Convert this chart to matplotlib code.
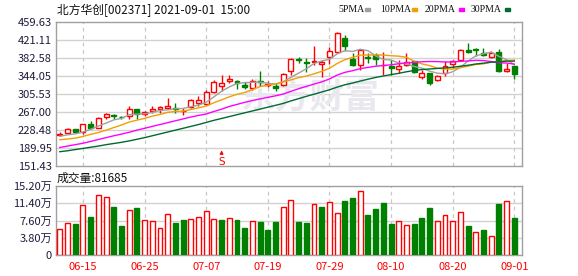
import numpy as np
import matplotlib
matplotlib.use("Agg")
import matplotlib.pyplot as plt
from matplotlib.patches import Rectangle

plt.rcParams['font.family'] = ['Noto Sans CJK SC', 'DejaVu Sans']

# ---- data ----
dates = ['06-15', '06-25', '07-07', '07-19', '07-29', '08-10', '08-20', '09-01']
date_idx = [3, 11, 19, 27, 35, 43, 51, 59]

opens = [218, 222.5, 230, 223, 240.6, 233.5, 256.9, 259.5, 256.5, 258.3,
         272.4, 261.8, 268.2, 272.4, 276, 275, 268.9, 278, 286, 283,
         310, 322, 332.5, 334, 324, 318, 334, 325.4, 322, 325,
         354, 379.5, 372.5, 373, 369.5, 384, 394.7, 424.4, 380.5, 367.8,
         384, 387.6, 366.5, 366, 358.6, 367.8, 374.9, 341.7, 350.1, 334.6,
         350.1, 368.8, 377, 399.6, 401, 392.5, 384, 394.7, 353.7, 365.7]
highs = [223, 232, 231.5, 242, 247.7, 255.5, 265.4, 261.8, 258.3, 279.5,
         273, 268.9, 279.5, 279.5, 297.2, 285, 274.5, 294, 300.7, 314,
         335, 345, 346.6, 336, 331, 337, 353.7, 332.5, 329, 350,
         383, 384, 383, 408, 378.4, 406, 437, 431.4, 392.6, 401,
         392.6, 392.6, 394, 377, 378.4, 392.6, 376, 357.2, 351, 346,
         374.9, 378.4, 401, 415.2, 403.2, 403.2, 396, 401, 371.4, 366]
lows = [216, 221, 222, 219.4, 230, 232, 252.6, 252.6, 251.2, 252.6,
        251.2, 258.3, 264, 265, 272.4, 264, 259.7, 276, 279.5, 281,
        307, 311, 329, 315, 316, 313.4, 322, 321, 311.3, 322,
        345, 371, 352, 367.8, 342, 370, 392.5, 396, 364.3, 357.2,
        371.4, 367.8, 345, 345, 350, 364.3, 351, 337.4, 325.4, 332.5,
        344.5, 360.8, 375.6, 392.5, 385.5, 386.9, 382, 352.3, 352.3, 337.4]
closes = [220.8, 231.4, 223, 240.6, 233.5, 254.8, 263.2, 258, 255.5, 272.4,
          261.8, 266.8, 272.4, 276.6, 279.5, 273.8, 268.9, 292, 293, 310.5,
          331, 329.5, 337.4, 329, 321, 334, 331.5, 325.4, 318.5, 348.5,
          379.5, 377.5, 371, 376, 374.5, 397.5, 435, 406.7, 366.4, 398.2,
          382, 379.8, 368, 361, 365.7, 372.8, 352.3, 350.1, 329, 344.6,
          364.3, 374.9, 399.6, 394, 400, 387.6, 392.5, 353.7, 358.7, 348.7]

ma5 = [215, 218, 220, 224, 229.9, 236.7, 243.0, 250.0, 253.0, 260.8,
       262.2, 262.9, 265.8, 270.0, 271.4, 273.8, 274.2, 278.2, 281.4, 287.6,
       299.1, 311.2, 320.3, 327.5, 329.6, 330.2, 330.6, 328.2, 326.1, 331.6,
       340.7, 349.9, 359.0, 370.5, 375.7, 379.3, 390.8, 397.9, 396.0, 400.8,
       397.7, 386.6, 378.9, 377.8, 371.3, 369.5, 364.0, 360.4, 354.0, 349.8,
       348.1, 352.6, 362.5, 375.5, 386.6, 391.2, 394.7, 385.6, 378.5, 368.2]
ma10 = [207.5, 209, 211, 214.5, 219, 223, 228, 233.5, 239, 245.3,
        249.4, 253.0, 257.9, 261.5, 266.1, 268.0, 268.6, 272.0, 275.7, 279.5,
        286.5, 292.7, 299.2, 304.5, 308.6, 314.6, 320.9, 324.2, 326.8, 330.6,
        335.4, 340.2, 343.6, 348.3, 353.6, 360.0, 370.3, 378.5, 383.3, 388.2,
        388.5, 388.7, 388.4, 386.9, 386.0, 383.6, 375.3, 369.6, 365.9, 360.5,
        358.8, 358.3, 361.4, 364.7, 368.2, 369.6, 373.7, 374.0, 377.0, 377.4]
ma20 = [191, 194, 197, 200, 204, 208, 212, 216, 219.5, 223.5,
        228, 232, 236, 240, 244, 248, 252, 256, 259.5, 262.4,
        267.9, 272.8, 278.6, 283.0, 287.4, 291.3, 294.7, 298.1, 301.3, 305.1,
        310.9, 316.5, 321.4, 326.4, 331.1, 337.3, 345.6, 351.4, 355.0, 359.4,
        362.0, 364.5, 366.0, 367.6, 369.8, 371.8, 372.8, 374.1, 374.6, 374.4,
        373.6, 373.5, 374.9, 375.8, 377.1, 376.6, 374.5, 371.8, 371.4, 369.0]
ma30 = [182, 184, 186.5, 189, 191.5, 194, 197, 199.5, 202, 205,
        208.5, 212, 216, 220, 224, 228, 232, 236, 240, 244.5,
        249, 253, 257, 261, 265, 269, 273, 277, 281, 285.1,
        290.4, 295.3, 300.2, 304.8, 309.5, 314.2, 319.9, 324.9, 328.6, 332.8,
        336.8, 340.6, 343.7, 346.6, 349.4, 352.7, 355.5, 357.4, 358.6, 359.8,
        360.9, 362.4, 364.5, 366.6, 369.3, 371.1, 373.1, 374.0, 375.4, 375.4]

# volume in units of 10k (万)
volume = [5.73, 6.97, 6.83, 10.94, 8.37, 13.14, 12.70, 10.57, 6.39, 9.84,
          10.35, 7.71, 7.49, 5.87, 8.95, 7.05, 7.71, 7.85, 8.29, 9.69,
          7.85, 7.71, 8.07, 7.71, 5.95, 7.49, 7.27, 5.51, 7.27, 10.50,
          12.04, 7.27, 7.05, 11.16, 10.57, 11.60, 9.18, 11.89, 12.55, 14.02,
          8.81, 10.13, 11.45, 6.83, 7.41, 6.53, 6.83, 8.15, 10.35, 7.41,
          8.73, 7.41, 9.40, 6.39, 4.99, 5.51, 4.11, 11.23, 11.82, 8.17]

price_ticks = [151.43, 189.95, 228.48, 267.00, 305.53, 344.05, 382.58, 421.11, 459.63]
vol_ticks = [0, 3.8, 7.6, 11.4, 15.2]
vol_labels = ['0', '3.80万', '7.60万', '11.40万', '15.20万']

RED = '#ff0000'
GREEN = '#008000'
GRID = '#d2d2d2'
BORDER = '#a0a0a0'
LABEL = '#1c1c3c'

W, H = 578, 276
fig = plt.figure(figsize=(W / 100, H / 100), dpi=100)


def box(l, t, r, b):
    return [l / W, 1 - b / H, (r - l) / W, (b - t) / H]


ax = fig.add_axes(box(56, 21.7, 522, 166))
axv = fig.add_axes(box(56, 186, 522, 255))

n = len(closes)
x = np.arange(n)
bw = 0.64

for a in (ax, axv):
    a.set_xlim(-0.5, 60.0)
    for s in a.spines.values():
        s.set_color(BORDER)
        s.set_linewidth(1)
    a.tick_params(length=0, labelsize=8, colors=LABEL, pad=3)
    a.set_xticks(date_idx)
    for xi in date_idx:
        a.axvline(xi, color='#c8c8c8', lw=0.9, ls=(0, (3, 3)), zorder=0)

# price panel
ax.set_ylim(price_ticks[0], price_ticks[-1])
ax.set_yticks(price_ticks)
ax.set_yticklabels(['%.2f' % v for v in price_ticks])
for v in price_ticks[1:-1]:
    ax.axhline(v, color=GRID, lw=1, zorder=0)
ax.set_xticklabels([])

ax.text(0.545, 0.48, '东方财富', transform=ax.transAxes, ha='center', va='center',
        fontsize=25, fontweight='bold', color='#e8e8ee', zorder=1)

for i in range(n):
    o, h, l, c = opens[i], highs[i], lows[i], closes[i]
    col = RED if c >= o else GREEN
    ax.vlines(i, l, h, color=col, lw=1, zorder=3)
    bot = min(o, c)
    hgt = max(abs(c - o), 0.8)
    face = 'white' if c >= o else GREEN
    ax.add_patch(Rectangle((i - bw / 2, bot), bw, hgt, facecolor=face,
                           edgecolor=col, lw=1, zorder=4))

ax.plot(x, ma5, color='#a0a0a0', lw=1, zorder=5)
ax.plot(x, ma10, color='#f0a000', lw=1, zorder=5)
ax.plot(x, ma20, color='#ff00ff', lw=1, zorder=5)
ax.plot(x, ma30, color='#006a30', lw=1, zorder=5)

# sell marker
ax.annotate('S', xy=(21, 185), xytext=(21, 161), ha='center', va='center',
            color=RED, fontsize=7.5, family='DejaVu Sans',
            arrowprops=dict(arrowstyle='-|>', color=RED, lw=0.8,
                            mutation_scale=5, shrinkA=3, shrinkB=0))

# volume panel
prev = [opens[0]] + closes[:-1]
axv.set_ylim(0, 15.2)
axv.set_yticks(vol_ticks)
axv.set_yticklabels(vol_labels)
for v in vol_ticks[1:-1]:
    axv.axhline(v, color=GRID, lw=1, zorder=0)
for i in range(n):
    up = closes[i] >= prev[i]
    axv.bar(i, volume[i], width=bw, facecolor='white' if up else GREEN,
            edgecolor=RED if up else GREEN, lw=1, zorder=3)
axv.set_xticklabels(dates, color=RED)
axv.tick_params(axis='x', pad=5, labelcolor=RED)

# header texts
fig.text(57 / W, 1 - 10 / H, '北方华创[002371] 2021-09-01  15:00', ha='left',
         va='center', fontsize=8.5, color='#111111')
fig.text(57 / W, 1 - 178 / H, '成交量:81685', ha='left', va='center',
         fontsize=8.5, color='#111111')

legend = [('5PMA', 338, 365, '#a0a0a0'), ('10PMA', 380, 412, '#f0a000'),
          ('20PMA', 425, 459, '#ff00ff'), ('30PMA', 471, 505, '#006a30')]
for name, tx, bx, col in legend:
    fig.text(tx / W, 1 - 9.5 / H, name, ha='left', va='center', fontsize=7,
             family='Liberation Serif', color='#111111')
    fig.patches.append(Rectangle((bx / W, 1 - 11 / H), 5 / W, 3 / H,
                                 transform=fig.transFigure, color=col))

fig.savefig('out.png', dpi=100)
